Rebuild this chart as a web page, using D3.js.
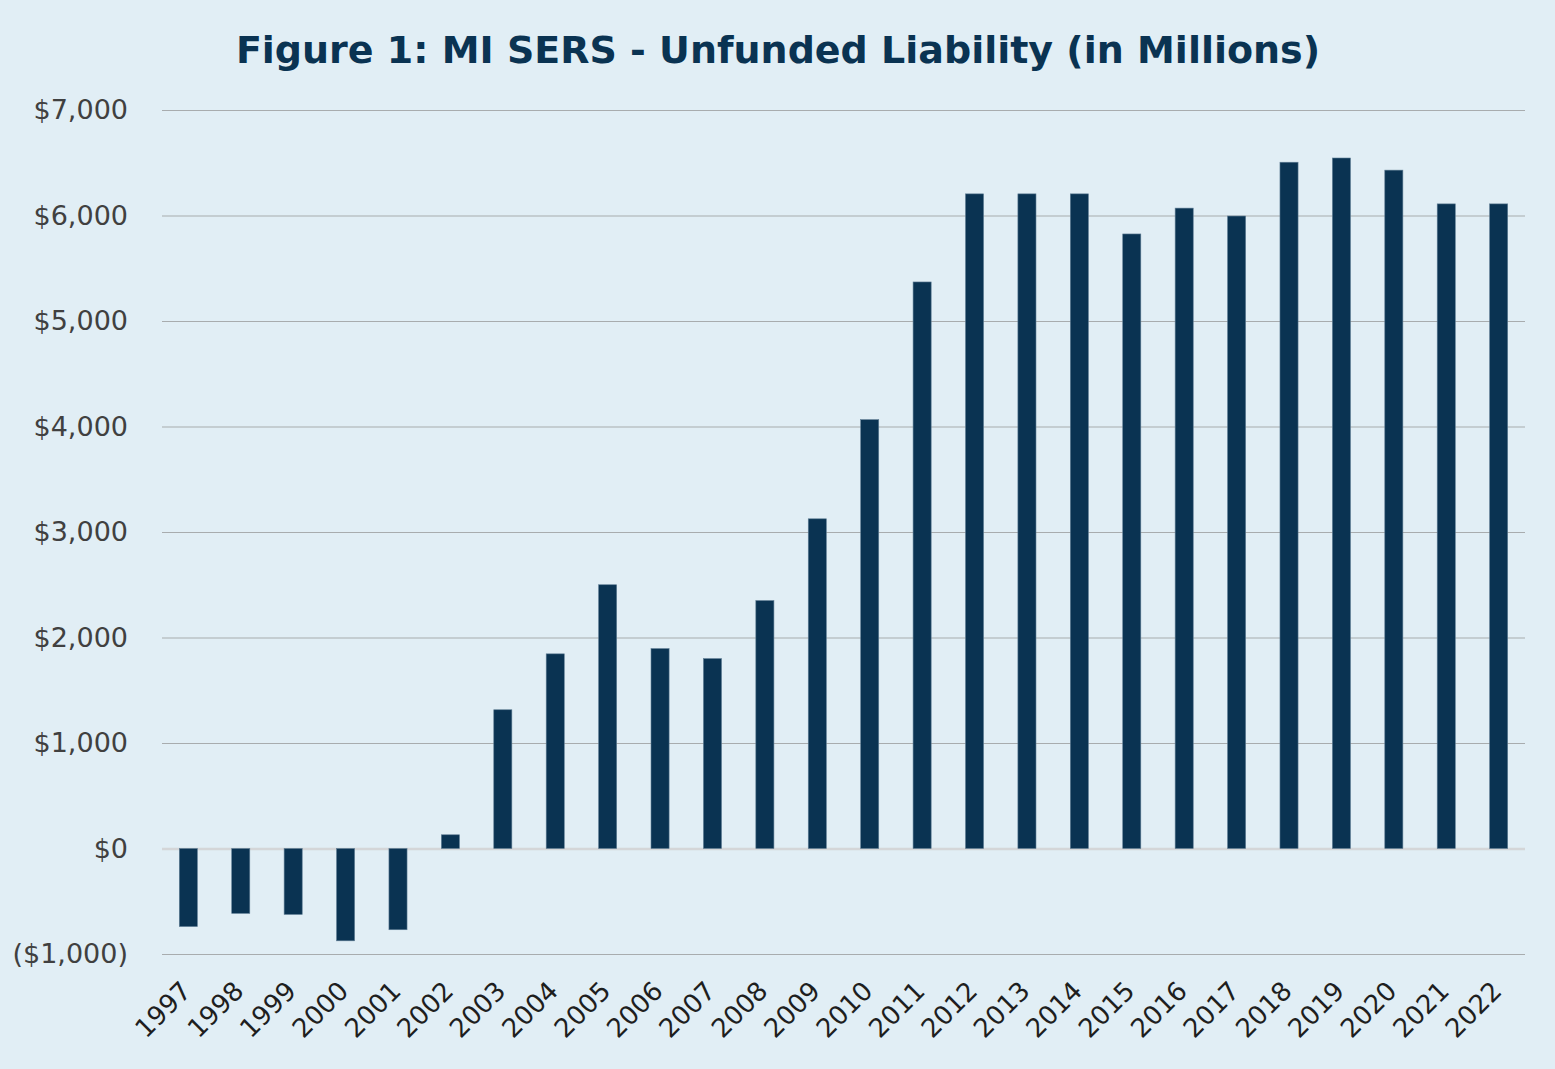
<!DOCTYPE html>
<html><head><meta charset="utf-8">
<script src="https://cdn.jsdelivr.net/npm/d3@7"></script>
<style>html,body{margin:0;padding:0;background:#e1eef5;}svg{display:block;}</style>
</head><body>
<svg id="c" width="1555" height="1069"></svg>
<script>
const years = ["1997","1998","1999","2000","2001","2002","2003","2004","2005","2006","2007","2008","2009","2010","2011","2012","2013","2014","2015","2016","2017","2018","2019","2020","2021","2022"];
const unfunded = [-740,-615,-625,-875,-770,130,1315,1845,2500,1895,1800,2350,3125,4065,5370,6205,6205,6205,5825,6070,5995,6505,6545,6430,6110,6110];
const yTicks = [-1000,0,1000,2000,3000,4000,5000,6000,7000];
const titleBold = "Figure 1:";
const titleRest = " MI SERS - Unfunded Liability (in Millions)";

const svg = d3.select("#c");
const W = 1555, H = 1069;
svg.append("rect").attr("width", W).attr("height", H).attr("fill", "#e1eef5");
const x0 = 162, x1 = 1525;
const x = d3.scaleBand().domain(years).range([x0, x1]).paddingInner(0.655).paddingOuter(0.33);
const y = d3.scaleLinear().domain([-1000, 7000]).range([954, 110]);
const fmt = v => v < 0 ? "($" + d3.format(",")(-v) + ")" : "$" + d3.format(",")(v);

// gridlines
const yAxis = d3.axisLeft(y).tickValues(yTicks).tickSize(-(x1 - x0)).tickFormat(fmt);
const gy = svg.append("g").attr("transform", `translate(${x0},0)`).call(yAxis);
gy.select(".domain").remove();
gy.selectAll(".tick line").attr("stroke", d => d === 0 ? "#d4d6d8" : "#a8acae").attr("stroke-width", d => d === 0 ? 2.5 : 1.2);
gy.selectAll(".tick text").attr("x", -34).attr("fill", "#404040")
  .style("font-family", "'DejaVu Sans', sans-serif").style("font-size", "27px").style("font-weight", "400");

// bars
svg.append("g").selectAll("rect").data(years).join("rect")
  .attr("x", d => x(d))
  .attr("width", x.bandwidth())
  .attr("y", (d, i) => y(Math.max(0, unfunded[i])))
  .attr("height", (d, i) => Math.abs(y(unfunded[i]) - y(0)))
  .attr("fill", "#0a3352")
  .attr("stroke", "#5f7d94").attr("stroke-width", 0.6);

// x axis labels
const xAxis = d3.axisBottom(x).tickSize(0);
const gx = svg.append("g").attr("transform", `translate(0,962)`).call(xAxis);
gx.select(".domain").remove();
gx.selectAll(".tick text")
  .attr("text-anchor", "end")
  .attr("transform", "translate(-2,24) rotate(-45)")
  .attr("dy", "0.35em").attr("x", 0).attr("y", 0)
  .attr("fill", "#1e1e1e")
  .style("font-family", "'DejaVu Sans', sans-serif").style("font-size", "26px").style("font-weight", "400");

// title
const t = svg.append("text").attr("x", 778).attr("y", 63).attr("text-anchor", "middle")
  .attr("fill", "#0a3352").style("font-family", "'DejaVu Sans', sans-serif").style("font-size", "38px");
t.append("tspan").text(titleBold).style("font-weight", "900");
t.append("tspan").text(titleRest).style("font-weight", "600");
</script>
</body></html>
